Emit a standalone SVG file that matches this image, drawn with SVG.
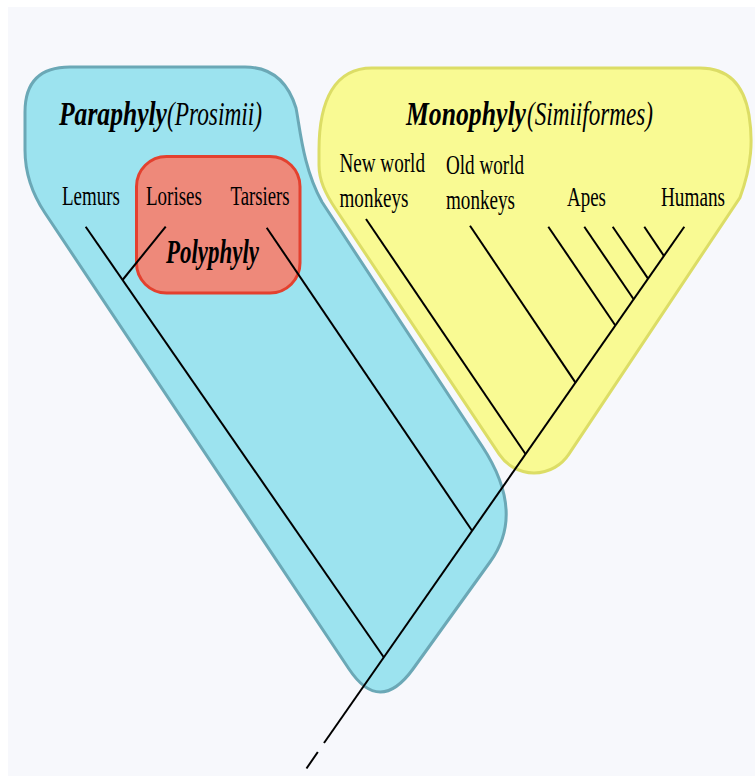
<svg xmlns="http://www.w3.org/2000/svg" width="755" height="776" viewBox="0 0 755 776">
  <style>
    .title { font-family: "Liberation Serif", "Times New Roman", serif; font-size: 33px; fill: #000; }
    .bi { font-weight: bold; font-style: italic; }
    .it { font-style: italic; }
    .lbl { font-family: "Liberation Serif", "Times New Roman", serif; font-size: 27px; fill: #000; }
    .edge { stroke: #000; stroke-width: 2; fill: none; stroke-linecap: butt; }
  </style>
  <rect x="0" y="0" width="755" height="776" fill="#ffffff"/>
  <rect x="8" y="7" width="747" height="769" fill="#f7f8fc"/>

  <g id="paraphyly">
    <path d="M 70,67 L 245,67 C 272,67 288,82 296,108 C 300,128 303,168 322,202 L 482,446 Q 526,513 490,562 L 413,669 Q 379.6,715 349,669 L 45,213 Q 25,183 25,150 L 25,112 Q 25,67 70,67 Z" fill="#9ce3ef" stroke="#6ba8b6" stroke-width="3"/>
    <text class="title bi" transform="translate(59,125) scale(0.775,1)" textLength="139.3" lengthAdjust="spacingAndGlyphs">Paraphyly</text>
    <text class="title it" transform="translate(167,125) scale(0.7,1)" textLength="135.7" lengthAdjust="spacingAndGlyphs">(Prosimii)</text>
  </g>

  <g id="monophyly">
    <path d="M 372,68 L 700,68 C 728,68 744,85 749,115 C 753,140 752,165 740,197.5 L 568.7,454.4 A 41.7,41.7 0 0 1 499.3,454.4 L 336,209.5 C 325,193 319,180 319,165 L 319,150 C 319,100 335,68 372,68 Z" fill="#f9fa93" stroke="#dcdd66" stroke-width="3"/>
    <text class="title bi" transform="translate(406,125) scale(0.779,1)" textLength="154" lengthAdjust="spacingAndGlyphs">Monophyly</text>
    <text class="title it" transform="translate(527,125) scale(0.701,1)" textLength="179.7" lengthAdjust="spacingAndGlyphs">(Simiiformes)</text>
  </g>

  <g id="polyphyly">
    <rect x="136.5" y="156.5" width="163.5" height="136.5" rx="30" ry="30" fill="#ee897a" stroke="#e3412f" stroke-width="3"/>
    <text class="title bi" transform="translate(166,263) scale(0.695,1)" textLength="133.8" lengthAdjust="spacingAndGlyphs">Polyphyly</text>
  </g>

  <g id="connectors">
    <line class="edge" x1="684.3" y1="226.7" x2="324" y2="743"/>
    <line class="edge" x1="317.8" y1="752" x2="306.5" y2="768.5"/>
    <line class="edge" x1="85.7" y1="226.7" x2="383.8" y2="657.3"/>
    <line class="edge" x1="165.7" y1="226.7" x2="122.5" y2="280"/>
    <line class="edge" x1="266.7" y1="227.7" x2="472.1" y2="530.8"/>
    <line class="edge" x1="366" y1="219" x2="525.5" y2="454"/>
    <line class="edge" x1="470" y1="225.7" x2="575.5" y2="382.6"/>
    <line class="edge" x1="548.3" y1="226.7" x2="615.2" y2="325.2"/>
    <line class="edge" x1="584.3" y1="226.7" x2="633.5" y2="299"/>
    <line class="edge" x1="612.7" y1="226.7" x2="647.9" y2="278.4"/>
    <line class="edge" x1="644.3" y1="226.7" x2="663.9" y2="255.9"/>
  </g>

  <g id="lemurs"><text class="lbl" transform="translate(62,204.5) scale(0.703,1)" textLength="82.5" lengthAdjust="spacingAndGlyphs">Lemurs</text></g>
  <g id="lorises"><text class="lbl" transform="translate(146,204.5) scale(0.704,1)" textLength="79.5" lengthAdjust="spacingAndGlyphs">Lorises</text></g>
  <g id="tarsiers"><text class="lbl" transform="translate(230.5,204.5) scale(0.678,1)" textLength="87" lengthAdjust="spacingAndGlyphs">Tarsiers</text></g>
  <g id="new-world-monkeys">
    <text class="lbl" transform="translate(339.5,172) scale(0.708,1)" textLength="120.7" lengthAdjust="spacingAndGlyphs">New world</text>
    <text class="lbl" transform="translate(339.5,207) scale(0.708,1)" textLength="97.5" lengthAdjust="spacingAndGlyphs">monkeys</text>
  </g>
  <g id="old-world-monkeys">
    <text class="lbl" transform="translate(446,174) scale(0.708,1)" textLength="110.2" lengthAdjust="spacingAndGlyphs">Old world</text>
    <text class="lbl" transform="translate(446,208.5) scale(0.708,1)" textLength="97.5" lengthAdjust="spacingAndGlyphs">monkeys</text>
  </g>
  <g id="apes"><text class="lbl" transform="translate(567,206) scale(0.703,1)" textLength="55.5" lengthAdjust="spacingAndGlyphs">Apes</text></g>
  <g id="humans"><text class="lbl" transform="translate(661,206) scale(0.711,1)" textLength="90" lengthAdjust="spacingAndGlyphs">Humans</text></g>
</svg>
